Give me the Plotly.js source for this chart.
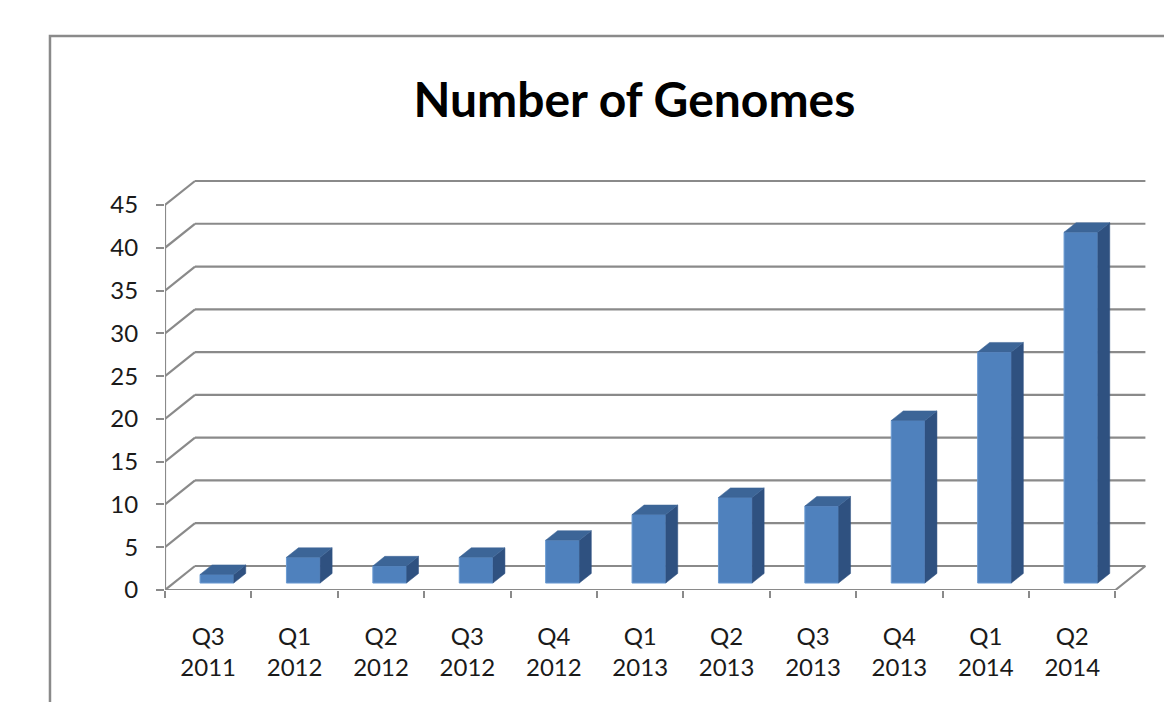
<!DOCTYPE html>
<html>
<head>
<meta charset="utf-8">
<script src="https://cdn.plot.ly/plotly-3.0.1.min.js"></script>
<style>html,body{margin:0;padding:0;background:#fff;}#chart{width:1164px;height:702px;}</style>
</head>
<body>
<div id="chart"></div>
<script>
// ---- data ----
const quarters = ['Q3','Q1','Q2','Q3','Q4','Q1','Q2','Q3','Q4','Q1','Q2'];
const years    = ['2011','2012','2012','2012','2012','2013','2013','2013','2013','2014','2014'];
const genomes  = [1, 3, 2, 3, 5, 8, 10, 9, 19, 27, 41];
const yTicks   = [0, 5, 10, 15, 20, 25, 30, 35, 40, 45];

// ---- 3D look configuration (oblique projection, in data units) ----
const cfg = {
  depthX: 0.347,    // x shift for full depth (category units)
  depthY: 2.805,    // y shift for full depth (value units)
  barFront: 0.29,   // depth of bar front face
  barDepth: 0.40,   // bar thickness along depth
  barWidth: 0.39,   // front face width
  xMax: 11.516,
  yMax: 49.09,
  grid: '#8a8a8a',
  front: '#4f81bd',
  top: '#3c6597',
  side: '#2f5180',
  font: 'Lato, "Open Sans", sans-serif'
};

const N = genomes.length;
const yTop = yTicks[yTicks.length - 1];
const traces = [];

// back wall gridlines
const gx = [], gy = [], dx = [], dy = [];
yTicks.forEach(t => {
  gx.push(cfg.depthX, N + cfg.depthX, null);
  gy.push(t + cfg.depthY, t + cfg.depthY, null);
  dx.push(0, cfg.depthX, null);
  dy.push(t, t + cfg.depthY, null);
});
const lineStyle = {color: cfg.grid, width: 2.2};
traces.push({type:'scatter', mode:'lines', x: gx, y: gy, line: lineStyle, hoverinfo:'skip', xaxis:'x', yaxis:'y'});
traces.push({type:'scatter', mode:'lines', x: dx, y: dy, line: lineStyle, hoverinfo:'skip', xaxis:'x', yaxis:'y'});
// front vertical axis, floor front edge and floor right edge
traces.push({type:'scatter', mode:'lines',
  x: [0, 0, null, 0, N, N + cfg.depthX],
  y: [0, yTop, null, 0, 0, cfg.depthY],
  line: lineStyle, hoverinfo:'skip', xaxis:'x', yaxis:'y'});

// bars: front faces
const base = cfg.barFront * cfg.depthY;
const centers = genomes.map((v, i) => i + 0.5 + cfg.barFront * cfg.depthX);
traces.push({type:'bar', x: centers, y: genomes, base: base, width: cfg.barWidth,
  marker: {color: cfg.front, line: {color: '#6b9bd2', width: 1}},
  hoverinfo:'skip', xaxis:'x2', yaxis:'y2'});

// bars: side and top faces
const ddx = cfg.barDepth * cfg.depthX, ddy = cfg.barDepth * cfg.depthY;
genomes.forEach((v, i) => {
  const xl = centers[i] - cfg.barWidth / 2, xr = centers[i] + cfg.barWidth / 2;
  const yb = base, yt = base + v;
  traces.push({type:'scatter', mode:'lines', fill:'toself', fillcolor: cfg.side,
    x: [xr, xr, xr + ddx, xr + ddx, xr], y: [yb, yt, yt + ddy, yb + ddy, yb],
    line: {color: cfg.side, width: 0.5}, hoverinfo:'skip', xaxis:'x2', yaxis:'y2'});
  traces.push({type:'scatter', mode:'lines', fill:'toself', fillcolor: cfg.top,
    x: [xl, xr, xr + ddx, xl + ddx, xl], y: [yt, yt, yt + ddy, yt + ddy, yt],
    line: {color: cfg.top, width: 0.5}, hoverinfo:'skip', xaxis:'x2', yaxis:'y2'});
});

const tickFont = {family: cfg.font, size: 24, color: '#1a1a1a'};
const boundaries = genomes.map((v, i) => i).concat([N]);

const layout = {
  width: 1164, height: 702,
  margin: {l: 165, r: 4, t: 170, b: 112},
  paper_bgcolor: '#ffffff', plot_bgcolor: 'rgba(0,0,0,0)',
  showlegend: false,
  title: {text: 'Number of Genomes', font: {family: cfg.font, size: 48, color: '#000', weight: 'bold'},
          x: 0.545, xref: 'container', xanchor: 'center', y: 0.857, yref: 'container', yanchor: 'middle'},
  xaxis: {range: [0, cfg.xMax], tickvals: boundaries, ticks: 'outside', ticklen: 7, tickwidth: 2,
          tickcolor: cfg.grid, showticklabels: false, showgrid: false, zeroline: false, showline: false, fixedrange: true},
  xaxis2: {range: [0, cfg.xMax], overlaying: 'x', anchor: 'y2', side: 'bottom',
           tickvals: genomes.map((v, i) => i + 0.5), ticktext: quarters.map((q, i) => q + '<br>' + years[i]),
           ticks: '', showgrid: false, zeroline: false, showline: false, tickfont: tickFont, ticklabelstandoff: 30, fixedrange: true},
  yaxis: {range: [0, cfg.yMax], tickvals: yTicks, ticks: 'outside', ticklen: 8, tickwidth: 2, tickcolor: cfg.grid,
          showgrid: false, zeroline: false, showline: false, tickfont: tickFont, ticklabelstandoff: 13, fixedrange: true},
  yaxis2: {range: [0, cfg.yMax], overlaying: 'y', anchor: 'x2', visible: false, fixedrange: true},
  shapes: [{type: 'rect', xref: 'paper', yref: 'paper', x0: -0.1156, x1: 1.3, y0: -0.6, y1: 1.319,
            line: {color: '#8a8a8a', width: 2.5}, fillcolor: 'rgba(0,0,0,0)', layer: 'below'}]
};

Plotly.newPlot('chart', traces, layout, {displayModeBar: false, staticPlot: true});
</script>
</body>
</html>
